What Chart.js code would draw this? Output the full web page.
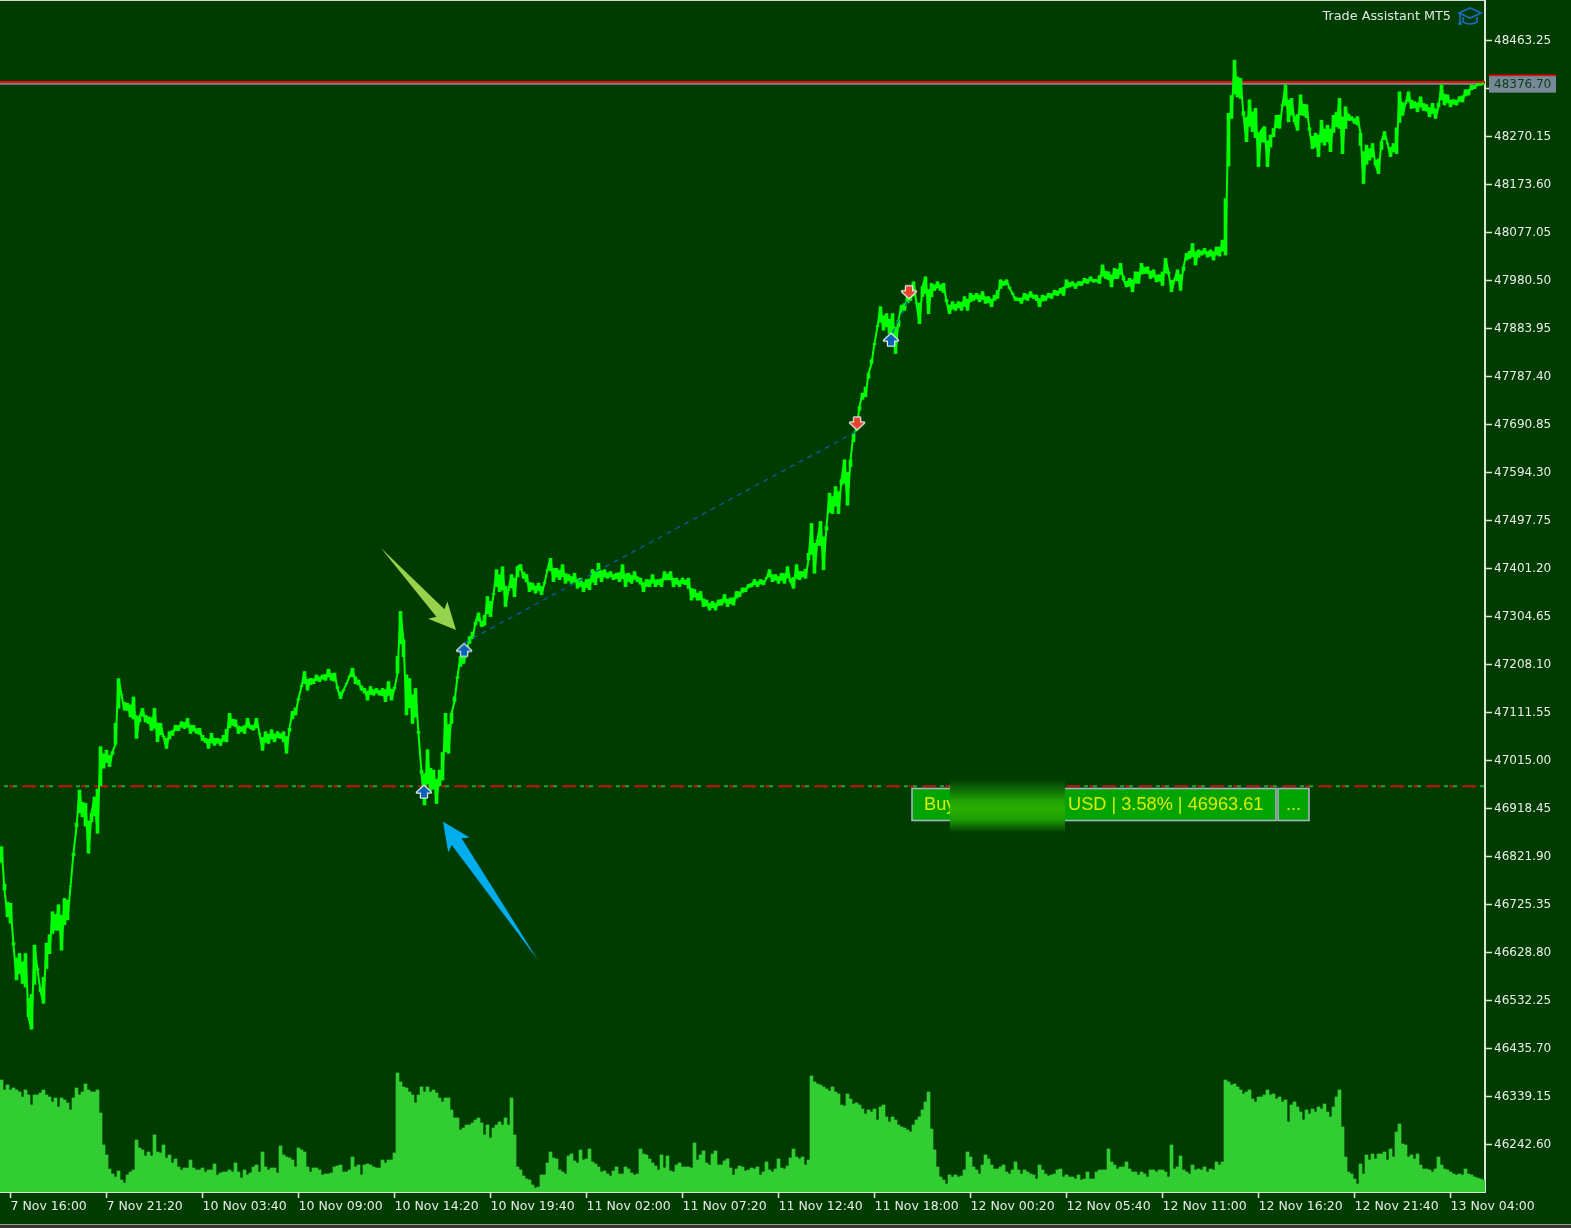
<!DOCTYPE html>
<html>
<head>
<meta charset="utf-8">
<title>Trade Assistant MT5</title>
<script src="https://cdn.jsdelivr.net/npm/chart.js@4"></script>
<style>
html, body { margin: 0; padding: 0; background: #003c00; overflow: hidden; }
canvas { display: block; filter: blur(0.35px); }
</style>
</head>
<body>
<canvas id="chart" width="1571" height="1228"></canvas>
<script>
// close per 10 minute bar
const priceValues = [
46842,46755,46701,46728,46644,46574,46627,46567,46627,46500,
46475,46644,46594,46551,46527,46648,46627,46711,46674,46725,
46634,46738,46695,46762,46829,46882,46956,46902,46929,46829,
46909,46942,46869,47043,47000,47036,47003,47033,47048,47180,
47147,47117,47130,47103,47143,47060,47103,47120,47093,47103,
47076,47120,47053,47090,47063,47040,47073,47066,47086,47076,
47093,47080,47100,47070,47086,47070,47080,47056,47060,47040,
47070,47046,47060,47046,47066,47053,47110,47086,47097,47070,
47083,47070,47100,47080,47077,47100,47070,47036,47073,47050,
47077,47053,47073,47060,47073,47030,47080,47114,47107,47140,
47164,47194,47157,47180,47170,47187,47174,47187,47177,47199,
47177,47191,47160,47140,47157,47170,47184,47201,47170,47177,
47157,47160,47137,47164,47147,47160,47147,47160,47134,47174,
47137,47160,47191,47315,47258,47107,47180,47090,47160,47070,
46990,46926,47037,46956,46996,46929,46996,46976,47110,47030,
47110,47134,47184,47224,47211,47231,47264,47261,47293,47312,
47285,47288,47345,47305,47349,47399,47355,47405,47325,47359,
47389,47345,47405,47409,47382,47389,47355,47372,47352,47372,
47349,47372,47399,47422,47375,47402,47379,47409,47372,47389,
47372,47392,47362,47382,47355,47379,47359,47399,47369,47412,
47375,47399,47382,47395,47379,47392,47375,47409,47365,47392,
47372,47395,47375,47382,47355,47379,47365,47389,47365,47379,
47365,47395,47379,47395,47365,47382,47365,47382,47369,47382,
47338,47359,47338,47355,47325,47338,47318,47335,47318,47338,
47328,47349,47325,47342,47328,47355,47345,47362,47355,47369,
47365,47379,47365,47379,47369,47382,47399,47375,47389,47372,
47392,47372,47405,47375,47362,47409,47379,47395,47382,47419,
47492,47392,47459,47496,47399,47486,47553,47512,47566,47512,
47580,47620,47529,47620,47673,47680,47727,47754,47747,47794,
47814,47854,47888,47928,47881,47914,47874,47914,47834,47901,
47931,47921,47948,47941,47978,47935,47894,47968,47988,47914,
47975,47961,47978,47961,47975,47938,47914,47938,47921,47938,
47921,47948,47921,47955,47941,47955,47938,47958,47935,47948,
47928,47951,47945,47982,47971,47982,47965,47955,47941,47945,
47935,47955,47941,47958,47945,47951,47928,47951,47941,47955,
47945,47961,47951,47965,47951,47982,47968,47978,47965,47978,
47971,47985,47975,47988,47978,47982,47975,48012,47985,47998,
47968,48005,47985,48015,47982,47968,47985,47958,47998,47975,
48015,47995,48008,47985,48002,47978,47992,47971,48025,47998,
47958,47982,48002,47961,48008,48035,48025,48055,48012,48042,
48032,48045,48028,48042,48022,48048,48030,48062,48032,48317,
48307,48424,48350,48387,48313,48260,48344,48280,48327,48210,
48283,48290,48210,48273,48270,48313,48287,48334,48374,48300,
48347,48300,48283,48354,48313,48334,48283,48246,48277,48230,
48303,48253,48293,48240,48313,48290,48347,48236,48330,48303,
48310,48297,48310,48277,48176,48253,48223,48256,48213,48196,
48260,48280,48256,48230,48256,48236,48360,48313,48337,48360,
48327,48340,48320,48350,48323,48334,48310,48337,48307,48330,
48374,48334,48354,48330,48344,48334,48350,48340,48364,48354,
48374,48367,48377,48374,48377
];

// tick volume per bar
const volumeValues = [
112,102,107,102,104,102,100,95,102,97,
87,97,97,99,102,97,95,90,94,85,
94,92,89,82,94,104,97,100,108,102,
100,100,102,79,47,37,23,18,15,21,
12,9,17,20,22,52,44,42,36,40,
36,57,40,39,47,34,37,29,33,25,
22,24,24,32,24,22,22,24,20,22,
22,28,17,19,20,20,22,20,29,20,
14,22,17,19,25,27,20,40,25,22,
24,24,19,46,37,35,34,32,25,44,
42,40,25,20,24,24,22,17,18,18,
19,25,26,27,20,20,22,35,25,27,
17,27,28,27,25,24,24,32,29,32,
32,39,119,110,105,104,100,97,89,97,
105,100,105,100,102,99,94,90,94,94,
82,74,74,62,64,67,67,69,72,74,
69,57,67,54,64,67,70,67,74,67,
94,57,25,
22,16,13,12,7,4,5,17,17,29,
40,34,33,22,20,18,36,38,31,29,
42,32,33,43,30,28,25,20,21,18,
16,21,25,18,18,25,23,19,17,18,
43,38,37,33,29,26,22,37,24,36,
21,20,27,29,25,25,25,24,49,32,
37,41,29,27,38,41,27,27,31,33,
24,17,23,26,25,21,22,24,23,25,
17,20,30,22,20,23,33,24,23,26,
34,43,35,33,35,27,32,
116,110,108,107,105,103,101,105,100,98,
87,86,98,93,88,89,87,83,78,82,
80,83,72,85,87,75,70,75,72,67,
65,64,62,60,67,72,75,82,90,100,
63,42,25,15,12,8,17,15,17,15,
16,22,40,35,25,22,18,27,37,33,
27,23,23,25,27,20,18,22,30,22,
18,22,20,18,17,13,27,22,18,16,
17,18,22,23,15,17,15,15,13,17,
12,13,20,13,13,20,22,22,22,43,
30,27,23,25,25,30,23,20,20,17,
20,18,15,22,22,20,22,22,20,15,
47,23,25,36,22,20,18,27,22,23,
22,25,20,23,22,30,27,30,
112,110,107,108,105,102,98,100,102,93,
90,95,95,97,102,97,98,93,95,90,
92,70,87,90,85,80,72,82,78,83,
80,85,83,88,80,75,85,95,102,65,
35,20,18,13,8,28,18,37,32,38,
33,38,38,40,32,43,35,60,68,48,
47,35,37,33,38,27,23,23,22,20,
23,35,27,23,22,20,18,17,18,17,
23,18,17,15,14,13,12
];

const barIndex = priceValues.map((v, i) => i);

const xTickBars = [3,35,67,99,131,163,195,227,259,291,323,355,387,419,451,483];
const xTickLabels = [
  '7 Nov 16:00','7 Nov 21:20','10 Nov 03:40','10 Nov 09:00','10 Nov 14:20','10 Nov 19:40',
  '11 Nov 02:00','11 Nov 07:20','11 Nov 12:40','11 Nov 18:00','12 Nov 00:20','12 Nov 05:40',
  '12 Nov 11:00','12 Nov 16:20','12 Nov 21:40','13 Nov 04:00'
];
const yTickValues = [
  48463.25,48366.70,48270.15,48173.60,48077.05,47980.50,47883.95,47787.40,
  47690.85,47594.30,47497.75,47401.20,47304.65,47208.10,47111.55,47015.00,
  46918.45,46821.90,46725.35,46628.80,46532.25,46435.70,46339.15,46242.60
];

const bidPrice = 48376.70;
const askPrice = 48380;
const entryPrice = 46963.61;

const tradeBars = [140.8,154.2,285.2,296.5,302.5];
const tradePrices = [46952,47237,47694,47861,47958];
const tradeIsBuy = [true,true,false,true,false];

const linkBarsA = [154.2,285.2];
const linkPricesA = [47252,47678];
const linkBarsB = [297,302.5];
const linkPricesB = [47875,47946];

// price swing inside each bar, from the close most of the way to its neighbours
const priceSwings = priceValues.map((p, i) => {
  const prev = priceValues[Math.max(i - 1, 0)];
  const next = priceValues[Math.min(i + 1, priceValues.length - 1)];
  return [p, p + ((prev + next) / 2 - p) * 0.72];
});

const BG = '#003c00';
const FONT = "'DejaVu Sans', sans-serif";

Chart.defaults.font.family = FONT;

function makeArrow(color, up) {
  const c = document.createElement('canvas');
  c.width = 18;
  c.height = 16;
  const g = c.getContext('2d');
  if (!up) {
    g.translate(0, 16);
    g.scale(1, -1);
  }
  g.beginPath();
  g.moveTo(9, 2);
  g.lineTo(16, 8.5);
  g.lineTo(12, 8.5);
  g.lineTo(12, 13.5);
  g.lineTo(6, 13.5);
  g.lineTo(6, 8.5);
  g.lineTo(2, 8.5);
  g.closePath();
  g.lineWidth = 2.4;
  g.lineJoin = 'round';
  g.strokeStyle = '#e4ecec';
  g.stroke();
  g.fillStyle = color;
  g.fill();
  return c;
}

const buyArrow = makeArrow('#0a62b4', true);
const sellArrow = makeArrow('#e8432a', false);

function zip(xs, ys) {
  return xs.map((x, i) => ({ x: x, y: ys[i] }));
}

function levelLine(price, color, width, dash, offset, order) {
  return {
    type: 'line',
    data: [{ x: -0.5, y: price }, { x: 494.5, y: price }],
    borderColor: color,
    borderWidth: width,
    borderDash: dash || [],
    borderDashOffset: offset || 0,
    pointRadius: 0,
    yAxisID: 'y',
    order: order
  };
}

function linkLine(xs, ys) {
  return {
    type: 'line',
    data: zip(xs, ys),
    borderColor: '#0b5aa6',
    borderWidth: 1.3,
    borderDash: [5, 5],
    pointRadius: 0,
    yAxisID: 'y',
    order: 2
  };
}

// callout arrow between two chart positions
function drawCallout(ctx, x, y, tail, tip, headLen, headHalf, neckHalf, color) {
  const tx = x.getPixelForValue(tail[0]), ty = y.getPixelForValue(tail[1]);
  const px = x.getPixelForValue(tip[0]), py = y.getPixelForValue(tip[1]);
  const len = Math.hypot(tx - px, ty - py);
  const dx = (tx - px) / len, dy = (ty - py) / len;
  const nx = dy, ny = -dx;
  const bx = px + dx * headLen, by = py + dy * headLen;
  const kx = px + dx * (headLen - 4), ky = py + dy * (headLen - 4);
  ctx.beginPath();
  ctx.moveTo(tx, ty);
  ctx.lineTo(kx + nx * neckHalf, ky + ny * neckHalf);
  ctx.lineTo(bx + nx * headHalf, by + ny * headHalf);
  ctx.lineTo(px, py);
  ctx.lineTo(bx - nx * headHalf, by - ny * headHalf);
  ctx.lineTo(kx - nx * neckHalf, ky - ny * neckHalf);
  ctx.closePath();
  ctx.fillStyle = color;
  ctx.fill();
}

function drawButton(ctx, x, y, w, h) {
  ctx.fillStyle = '#00a400';
  ctx.fillRect(x, y, w, h);
  ctx.strokeStyle = '#a4b4c0';
  ctx.lineWidth = 1.6;
  ctx.strokeRect(x, y, w, h);
}

const overlay = {
  id: 'overlay',
  afterDraw(chart) {
    const ctx = chart.ctx;
    const x = chart.scales.x, y = chart.scales.y;
    ctx.save();

    // frame bits
    ctx.fillStyle = '#cfdccf';
    ctx.fillRect(0, 0, 1485, 1);
    ctx.fillStyle = '#9a9f9a';
    ctx.fillRect(0, 1224, 1571, 1);
    ctx.fillStyle = '#303830';
    ctx.fillRect(0, 1225, 1571, 3);

    // current price box
    const by = y.getPixelForValue(bidPrice);
    ctx.fillStyle = '#778899';
    ctx.fillRect(1489, by - 8, 67, 17);
    ctx.fillStyle = '#ff0000';
    ctx.fillRect(1489, by - 9, 67, 1.5);
    ctx.fillStyle = '#0d3f16';
    ctx.font = '12px ' + FONT;
    ctx.textAlign = 'left';
    ctx.textBaseline = 'middle';
    ctx.fillText(bidPrice.toFixed(2), 1494, by + 1);

    // logo
    ctx.fillStyle = '#e2e6e2';
    ctx.font = '12.8px ' + FONT;
    ctx.textAlign = 'right';
    ctx.fillText('Trade Assistant MT5', 1451, 17);
    ctx.strokeStyle = '#1e6cc8';
    ctx.fillStyle = '#1e6cc8';
    ctx.lineWidth = 1.6;
    ctx.beginPath();
    ctx.moveTo(1459, 13);
    ctx.lineTo(1470, 8);
    ctx.lineTo(1481, 13);
    ctx.lineTo(1470, 18);
    ctx.closePath();
    ctx.stroke();
    ctx.beginPath();
    ctx.moveTo(1463, 17);
    ctx.lineTo(1463, 22);
    ctx.quadraticCurveTo(1470, 26, 1477, 22);
    ctx.lineTo(1477, 17);
    ctx.stroke();
    ctx.beginPath();
    ctx.moveTo(1460, 13);
    ctx.lineTo(1460, 23);
    ctx.stroke();
    ctx.fillRect(1458.5, 22, 3, 3);

    // trade panel
    drawButton(ctx, 912, 788.5, 364, 32);
    drawButton(ctx, 1278, 788.5, 31, 32);
    ctx.fillStyle = '#dcec00';
    ctx.font = "18.2px 'Liberation Sans', sans-serif";
    ctx.textAlign = 'left';
    ctx.fillText('Buy', 924, 805);
    ctx.fillText('USD | 3.58% | 46963.61', 1068, 805);
    ctx.fillText('...', 1286, 805);

    // blurred patch
    const patch = ctx.createLinearGradient(0, 779, 0, 833);
    patch.addColorStop(0, BG);
    patch.addColorStop(0.2, '#0d6a04');
    patch.addColorStop(0.4, '#20a204');
    patch.addColorStop(0.55, '#2cb004');
    patch.addColorStop(0.75, '#1c9c02');
    patch.addColorStop(1, BG);
    ctx.fillStyle = patch;
    ctx.fillRect(950, 779, 115, 54);

    // callouts
    drawCallout(ctx, x, y, [126.4, 47443], [151.5, 47278], 27, 13, 5.5, '#96d24c');
    drawCallout(ctx, x, y, [178.8, 46614], [147.2, 46892], 28, 13, 6, '#00aeef');

    ctx.restore();
  }
};

new Chart(document.getElementById('chart'), {
  type: 'bar',
  data: {
    labels: barIndex,
    datasets: [
      {
        type: 'bar',
        data: volumeValues,
        backgroundColor: '#32cd32',
        borderWidth: 0,
        barPercentage: 1,
        categoryPercentage: 1,
        grouped: false,
        yAxisID: 'volume',
        order: 9
      },
      levelLine(bidPrice, '#778899', 2, null, 0, 8),
      levelLine(askPrice, '#ff0000', 2, null, 0, 7),
      levelLine(entryPrice, '#2e9e2e', 2, [4, 5, 4, 23], 32, 6),
      levelLine(entryPrice, '#c8100c', 2, [14, 9, 4, 9], 13.7, 5),
      {
        type: 'line',
        data: priceValues,
        borderColor: '#00ff00',
        borderWidth: 2,
        borderJoinStyle: 'bevel',
        tension: 0,
        pointRadius: 0,
        yAxisID: 'y',
        order: 4
      },
      {
        type: 'bar',
        data: priceSwings,
        backgroundColor: '#00ff00',
        borderWidth: 0,
        barPercentage: 1,
        categoryPercentage: 1,
        grouped: false,
        yAxisID: 'y',
        order: 3
      },
      linkLine(linkBarsA, linkPricesA),
      linkLine(linkBarsB, linkPricesB),
      {
        type: 'line',
        data: zip(tradeBars, tradePrices),
        showLine: false,
        pointStyle: tradeIsBuy.map(b => (b ? buyArrow : sellArrow)),
        pointRadius: 7,
        yAxisID: 'y',
        order: 1
      }
    ]
  },
  plugins: [overlay],
  options: {
    responsive: false,
    animation: false,
    layout: { padding: 0, autoPadding: false },
    plugins: { legend: { display: false }, tooltip: { enabled: false } },
    scales: {
      x: {
        type: 'linear',
        min: -0.5,
        max: 494.5,
        offset: false,
        border: { color: '#dce6dc', width: 2 },
        grid: { offset: false, drawOnChartArea: false, drawTicks: true, tickLength: 6, color: '#dce6dc', tickWidth: 1.5 },
        afterBuildTicks: s => { s.ticks = xTickBars.map(v => ({ value: v })); },
        afterFit: s => { s.height = 36; s.paddingLeft = 0; s.paddingRight = 0; },
        ticks: {
          autoSkip: false,
          maxRotation: 0,
          minRotation: 0,
          align: 'start',
          padding: 1,
          color: '#e8ece8',
          font: { size: 12.5 },
          callback: (v, i) => xTickLabels[i]
        }
      },
      y: {
        position: 'right',
        min: 46147.5,
        max: 48544.9,
        border: { color: '#dce6dc', width: 2 },
        grid: { drawOnChartArea: false, drawTicks: true, tickLength: 7, color: '#dce6dc', tickWidth: 1.5 },
        afterBuildTicks: s => { s.ticks = yTickValues.map(v => ({ value: v })); },
        afterFit: s => { s.width = 86; s.paddingTop = 0; s.paddingBottom = 0; },
        ticks: {
          autoSkip: false,
          padding: 2,
          color: '#e8ece8',
          font: { size: 12 },
          callback: v => v.toFixed(2)
        }
      },
      volume: {
        display: false,
        min: 0,
        max: 1192
      }
    }
  }
});
</script>
</body>
</html>
